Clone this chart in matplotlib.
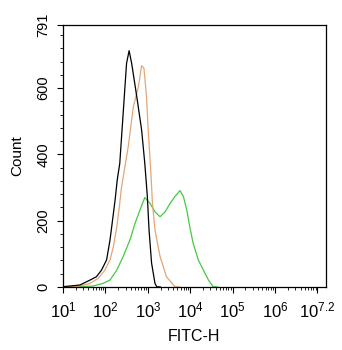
import numpy as np
import matplotlib
matplotlib.use('Agg')
import matplotlib.pyplot as plt
from matplotlib.ticker import FixedLocator, NullFormatter

plt.rcParams['font.family'] = ['Liberation Sans', 'DejaVu Sans']
plt.rcParams['mathtext.fontset'] = 'custom'
plt.rcParams['mathtext.rm'] = 'Liberation Sans'
plt.rcParams['mathtext.it'] = 'Liberation Sans:italic'

# log10(FITC-H) and counts
black_log = [1.0, 1.17, 1.40, 1.64, 1.79, 1.91, 2.03, 2.11, 2.17, 2.23, 2.28,
             2.34, 2.42, 2.50, 2.56, 2.62, 2.74, 2.855, 2.93, 2.99, 3.03,
             3.09, 3.17, 3.21, 3.30]
black_cnt = [1, 3, 6, 21, 31, 51, 82, 142, 202, 263, 323,
             373, 524, 675, 713, 675, 575, 474, 373, 273, 172,
             72, 11, 1, 0]

orange_log = [1.0, 1.40, 1.64, 1.83, 1.99, 2.11, 2.19, 2.27, 2.33, 2.38,
              2.54, 2.66, 2.78, 2.855, 2.91, 2.97, 3.01, 3.07, 3.11, 3.17,
              3.29, 3.44, 3.64, 3.75]
orange_cnt = [0, 3, 11, 26, 51, 82, 122, 182, 242, 300,
              424, 544, 605, 668, 660, 575, 474, 353, 253, 172,
              92, 31, 1, 0]

green_log = [1.0, 1.40, 1.71, 1.95, 2.11, 2.27, 2.42, 2.58, 2.70, 2.815,
             2.93, 3.05, 3.17, 3.29, 3.41, 3.53, 3.64, 3.76, 3.84, 3.92,
             3.99, 4.07, 4.19, 4.31, 4.43, 4.54, 4.65]
green_cnt = [0, 1, 3, 11, 21, 51, 92, 142, 192, 232,
             270, 253, 227, 212, 227, 253, 273, 291, 273, 232,
             182, 132, 82, 51, 21, 1, 0]

# the last decade tick carries the axis maximum label, as in the original
xticks_log = [1, 2, 3, 4, 5, 6, 7]
xtick_labels = ['$10^{1}$', '$10^{2}$', '$10^{3}$', '$10^{4}$', '$10^{5}$',
                '$10^{6}$', '$10^{7.2}$']
yticks = [0, 200, 400, 600, 791]

fig = plt.figure(figsize=(3.42, 3.5), dpi=100)
ax = fig.add_axes([0.184, 0.18, 0.769, 0.749])

ax.plot(10 ** np.array(green_log), green_cnt, color='#44c944', lw=0.9)
ax.plot(10 ** np.array(orange_log), orange_cnt, color='#e3a676', lw=0.9)
ax.plot(10 ** np.array(black_log), black_cnt, color='black', lw=0.9)

ax.set_xscale('log')
ax.set_xlim(10, 10 ** 7.2)
ax.set_ylim(0, 791)

ax.xaxis.set_major_locator(FixedLocator([10 ** v for v in xticks_log]))
ax.set_xticklabels(xtick_labels, fontsize=12)
minor = [m * 10 ** d for d in range(1, 8) for m in range(2, 10) if m * 10 ** d < 10 ** 7.2]
ax.xaxis.set_minor_locator(FixedLocator(minor))
ax.xaxis.set_minor_formatter(NullFormatter())

ax.set_yticks(yticks)
ax.set_yticklabels([str(v) for v in yticks], fontsize=10.5, rotation=90, va='center')
ax.set_yticks([v for v in range(40, 791, 40) if v % 200 != 0], minor=True)

ax.tick_params(which='major', direction='out', length=4, width=0.8)
ax.tick_params(axis='x', which='major', pad=6)
ax.tick_params(axis='y', which='major', pad=5)
ax.tick_params(which='minor', direction='out', length=2, width=0.6)
for s in ax.spines.values():
    s.set_linewidth(0.9)

ax.set_xlabel('FITC-H', fontsize=11.5, labelpad=6)
ax.set_ylabel('Count', fontsize=11, labelpad=9)

fig.savefig('out.png', dpi=100)
